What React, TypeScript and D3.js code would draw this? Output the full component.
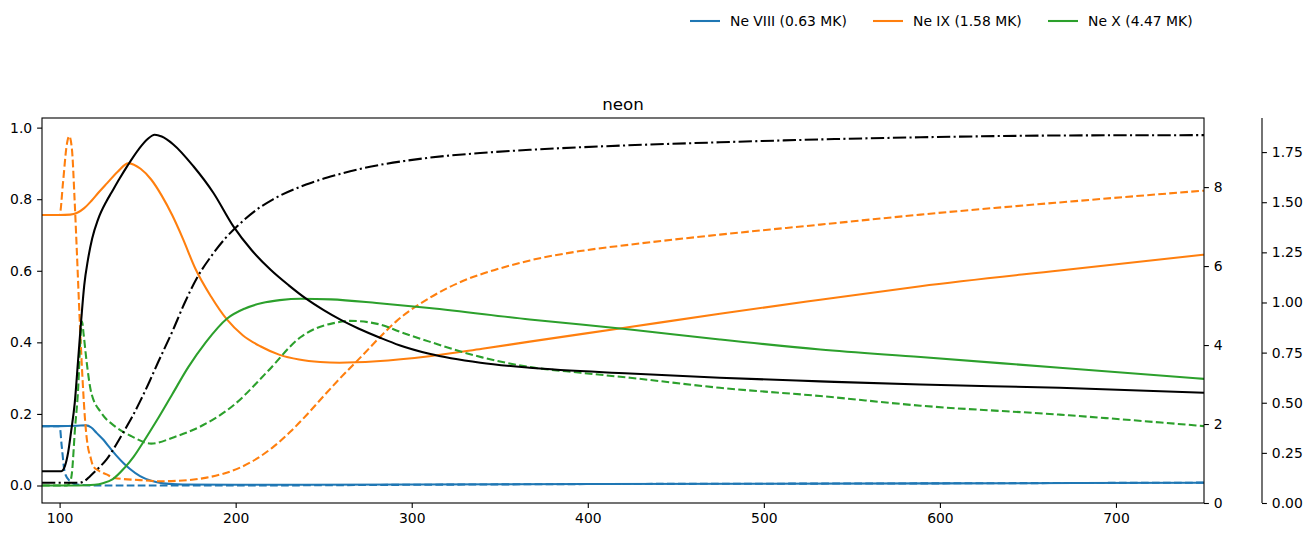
import React, { useEffect, useRef } from 'react';
import * as d3 from 'd3';

// values, in left-axis units
const neVIIISolid: [number, number][] = [
  [90, 0.166], [100, 0.166], [110, 0.167], [115, 0.168], [118, 0.162], [121, 0.147], [125, 0.127],
  [128.6, 0.105], [132, 0.085], [136.2, 0.063], [140, 0.046], [145.7, 0.026], [152, 0.013],
  [158.9, 0.006], [170, 0.003], [200, 0.002], [300, 0.003], [400, 0.004], [500, 0.005],
  [600, 0.006], [750, 0.0075],
];
const neVIIIDash: [number, number][] = [
  [90, 0.166], [100, 0.166], [101.2, 0.11], [103, 0.035], [105.9, 0.012], [109.7, 0.003],
  [120, 0.0], [200, 0.0], [300, 0.002], [400, 0.004], [500, 0.005], [600, 0.006], [750, 0.008],
];
const neIXSolid: [number, number][] = [
  [90, 0.756], [100, 0.756], [106, 0.757], [110, 0.762], [114, 0.775], [118, 0.795], [122, 0.818],
  [127, 0.845], [133, 0.877], [139, 0.9], [146, 0.885], [152, 0.855], [158, 0.81], [164, 0.755],
  [170, 0.69], [177, 0.607], [186, 0.528], [195, 0.464], [204, 0.42], [214, 0.389], [225, 0.365],
  [236, 0.352], [248, 0.345], [259, 0.343], [280, 0.347], [310, 0.361], [340, 0.382],
  [367, 0.402], [420, 0.44], [475, 0.48], [532, 0.519], [589, 0.557], [668, 0.601], [750, 0.645],
];
const neIXDash: [number, number][] = [
  [90, 0.756], [100, 0.756], [102, 0.85], [104, 0.95], [105.5, 0.976], [107, 0.94], [108.5, 0.8],
  [109.7, 0.665], [111.4, 0.464], [113, 0.3], [114.5, 0.18], [116, 0.11], [117.5, 0.08],
  [119, 0.055], [122, 0.042], [126.7, 0.031], [131, 0.021], [145.7, 0.015], [157, 0.012],
  [170, 0.014], [183.5, 0.022], [193, 0.033], [202.5, 0.05], [212, 0.075], [221.4, 0.108],
  [231, 0.15], [240.3, 0.197], [250, 0.25], [259, 0.298], [272.3, 0.365], [284, 0.425],
  [291.5, 0.46], [310.4, 0.525], [329.3, 0.572], [348.3, 0.604], [367.2, 0.629], [395.6, 0.655],
  [424, 0.673], [475, 0.701], [532, 0.729], [589, 0.757], [668, 0.791], [750, 0.824],
];
const neXSolid: [number, number][] = [
  [90, 0], [110, 0], [120, 0.002], [125, 0.007], [130, 0.017], [137, 0.05], [142, 0.08],
  [147.5, 0.121], [155, 0.18], [164, 0.255], [173, 0.33], [183, 0.4], [195, 0.466],
  [205, 0.494], [215, 0.51], [225, 0.518], [237, 0.522], [254, 0.52], [280, 0.51], [310, 0.496],
  [367, 0.464], [424, 0.436], [475, 0.408], [532, 0.38], [589, 0.359], [668, 0.329], [750, 0.298],
];
const neXDash: [number, number][] = [
  [90, 0], [104, 0], [106, 0.01], [107, 0.035], [108.7, 0.156], [110.6, 0.277], [111.7, 0.4],
  [112.7, 0.458], [113.7, 0.42], [115.2, 0.352], [118, 0.259], [123.7, 0.203], [131.3, 0.166],
  [140.7, 0.138], [152, 0.117], [165, 0.135], [180, 0.165], [199, 0.225], [218, 0.318],
  [237, 0.415], [246, 0.44], [255, 0.453], [265, 0.46], [282, 0.45], [293, 0.43], [310, 0.402],
  [340, 0.358], [367, 0.331], [396, 0.315], [424, 0.301], [475, 0.273], [532, 0.25], [589, 0.223],
  [668, 0.198], [750, 0.166],
];
const totalSolid: [number, number][] = [
  [90, 0.04], [101, 0.04], [103, 0.054], [104.8, 0.091], [106.5, 0.15], [108.6, 0.231],
  [110.5, 0.35], [112.3, 0.464], [114, 0.56], [116.1, 0.631], [118.5, 0.69], [121.8, 0.743],
  [126.7, 0.795], [129.4, 0.818], [134, 0.857], [138.5, 0.893], [145, 0.94], [150, 0.968],
  [154, 0.98], [158, 0.975], [164.6, 0.953], [176, 0.892], [187.3, 0.818], [198.7, 0.724],
  [209, 0.658], [220, 0.602], [230, 0.56], [240, 0.522], [250, 0.49], [260, 0.462], [270, 0.438],
  [282, 0.413], [293, 0.392], [310, 0.368], [339, 0.343], [367, 0.329], [424, 0.313], [475, 0.301],
  [532, 0.291], [589, 0.282], [668, 0.273], [750, 0.259],
];
const totalDashDot: [number, number][] = [
  [90, 0.0075], [111, 0.0075], [114, 0.012], [117.3, 0.026], [122, 0.048], [126.7, 0.073],
  [131, 0.105], [136, 0.147], [141, 0.19], [145.7, 0.235], [151, 0.29], [156, 0.345],
  [164, 0.43], [171, 0.51], [178, 0.58], [186, 0.64], [194, 0.69], [201, 0.725], [212, 0.771],
  [221, 0.799], [240, 0.841], [256, 0.866], [270, 0.884], [282, 0.896], [296, 0.907],
  [310, 0.916], [339, 0.929], [367, 0.938], [420, 0.95], [475, 0.959], [532, 0.967],
  [589, 0.973], [668, 0.978], [750, 0.979],
];

const xTicks = [100, 200, 300, 400, 500, 600, 700];
const yLeftTicks = [0, 0.2, 0.4, 0.6, 0.8, 1.0];
const yRightTicks = [0, 2, 4, 6, 8];
const yRight2Ticks = [0, 0.25, 0.5, 0.75, 1.0, 1.25, 1.5, 1.75];
const legendLabels = ['Ne VIII (0.63 MK)', 'Ne IX (1.58 MK)', 'Ne X (4.47 MK)'];
const colors = ['#1f77b4', '#ff7f0e', '#2ca02c'];

const FONT = 'DejaVu Sans, sans-serif';

export default function App() {
  const svgRef = useRef<SVGSVGElement>(null);

  useEffect(() => {
    if (!svgRef.current) return;
    const width = 1312;
    const height = 537;
    const L = 42, R = 1204, T = 118, B = 503;

    const svg = d3.select(svgRef.current);
    svg.selectAll('*').remove();
    svg.attr('width', width).attr('height', height);

    const x = d3.scaleLinear().domain([90, 750]).range([L, R]);
    const yL = d3.scaleLinear().domain([-0.0489, 1.0269]).range([B, T]);
    const yR = d3.scaleLinear().domain([0, 9.75]).range([B, T]);
    const yR2 = d3.scaleLinear().domain([0, 1.92]).range([B, T]);

    svg.append('defs').append('clipPath').attr('id', 'plot')
      .append('rect').attr('x', L).attr('y', T).attr('width', R - L).attr('height', B - T);

    const line = d3.line<[number, number]>()
      .x(d => x(d[0]))
      .y(d => yL(d[1]))
      .curve(d3.curveMonotoneX);

    const lw = 2.08;
    const dash = `${3.7 * lw},${1.6 * lw}`;
    const dashDot = `${6.4 * lw},${1.6 * lw},${1 * lw},${1.6 * lw}`;

    const series = [
      { data: neVIIISolid, color: colors[0], dash: null },
      { data: neVIIIDash, color: colors[0], dash },
      { data: neIXSolid, color: colors[1], dash: null },
      { data: neIXDash, color: colors[1], dash },
      { data: neXSolid, color: colors[2], dash: null },
      { data: neXDash, color: colors[2], dash },
      { data: totalSolid, color: '#000000', dash: null },
      { data: totalDashDot, color: '#000000', dash: dashDot },
    ];

    const g = svg.append('g').attr('clip-path', 'url(#plot)');
    series.forEach(s => {
      g.append('path')
        .attr('d', line(s.data))
        .attr('fill', 'none')
        .attr('stroke', s.color)
        .attr('stroke-width', lw)
        .attr('stroke-dasharray', s.dash)
        .attr('stroke-linecap', 'butt');
    });

    const styleAxis = (sel: any) => {
      sel.select('.domain').remove();
      sel.selectAll('line').attr('stroke', '#000').attr('stroke-width', 1.1);
      sel.selectAll('text').attr('font-family', FONT).attr('font-size', 13.9).attr('fill', '#000');
    };

    svg.append('g').attr('transform', `translate(0,${B})`)
      .call(d3.axisBottom(x).tickValues(xTicks).tickSize(4.9).tickPadding(4.9).tickFormat(d3.format('d')))
      .call(styleAxis);
    svg.append('g').attr('transform', `translate(${L},0)`)
      .call(d3.axisLeft(yL).tickValues(yLeftTicks).tickSize(4.9).tickPadding(4.9).tickFormat(d3.format('.1f')))
      .call(styleAxis);
    svg.append('g').attr('transform', `translate(${R},0)`)
      .call(d3.axisRight(yR).tickValues(yRightTicks).tickSize(4.9).tickPadding(4.9).tickFormat(d3.format('d')))
      .call(styleAxis);
    const r2 = 1262;
    svg.append('g').attr('transform', `translate(${r2},0)`)
      .call(d3.axisRight(yR2).tickValues(yRight2Ticks).tickSize(4.9).tickPadding(4.9).tickFormat(d3.format('.2f')))
      .call(styleAxis);

    // spines
    svg.append('rect')
      .attr('x', L).attr('y', T).attr('width', R - L).attr('height', B - T)
      .attr('fill', 'none').attr('stroke', '#000').attr('stroke-width', 1.1);
    svg.append('line')
      .attr('x1', r2).attr('x2', r2).attr('y1', T).attr('y2', B)
      .attr('stroke', '#000').attr('stroke-width', 1.1);

    // title
    svg.append('text')
      .attr('x', (L + R) / 2).attr('y', 110)
      .attr('text-anchor', 'middle')
      .attr('font-family', FONT).attr('font-size', 16.7)
      .text('neon');

    // legend
    const legendX = [690, 873, 1048];
    const legend = svg.selectAll('.legend')
      .data(legendLabels)
      .enter()
      .append('g')
      .attr('class', 'legend')
      .attr('transform', (d, i) => `translate(${legendX[i]}, 21)`);
    legend.append('line')
      .attr('x1', 0).attr('x2', 30).attr('y1', 0).attr('y2', 0)
      .attr('stroke', (d, i) => colors[i]).attr('stroke-width', lw);
    legend.append('text')
      .attr('x', 40).attr('y', 5)
      .attr('font-family', FONT).attr('font-size', 13.9)
      .text(d => d);
  }, []);

  return <svg ref={svgRef} style={{ position: 'absolute', left: 0, top: 0 }}></svg>;
}
